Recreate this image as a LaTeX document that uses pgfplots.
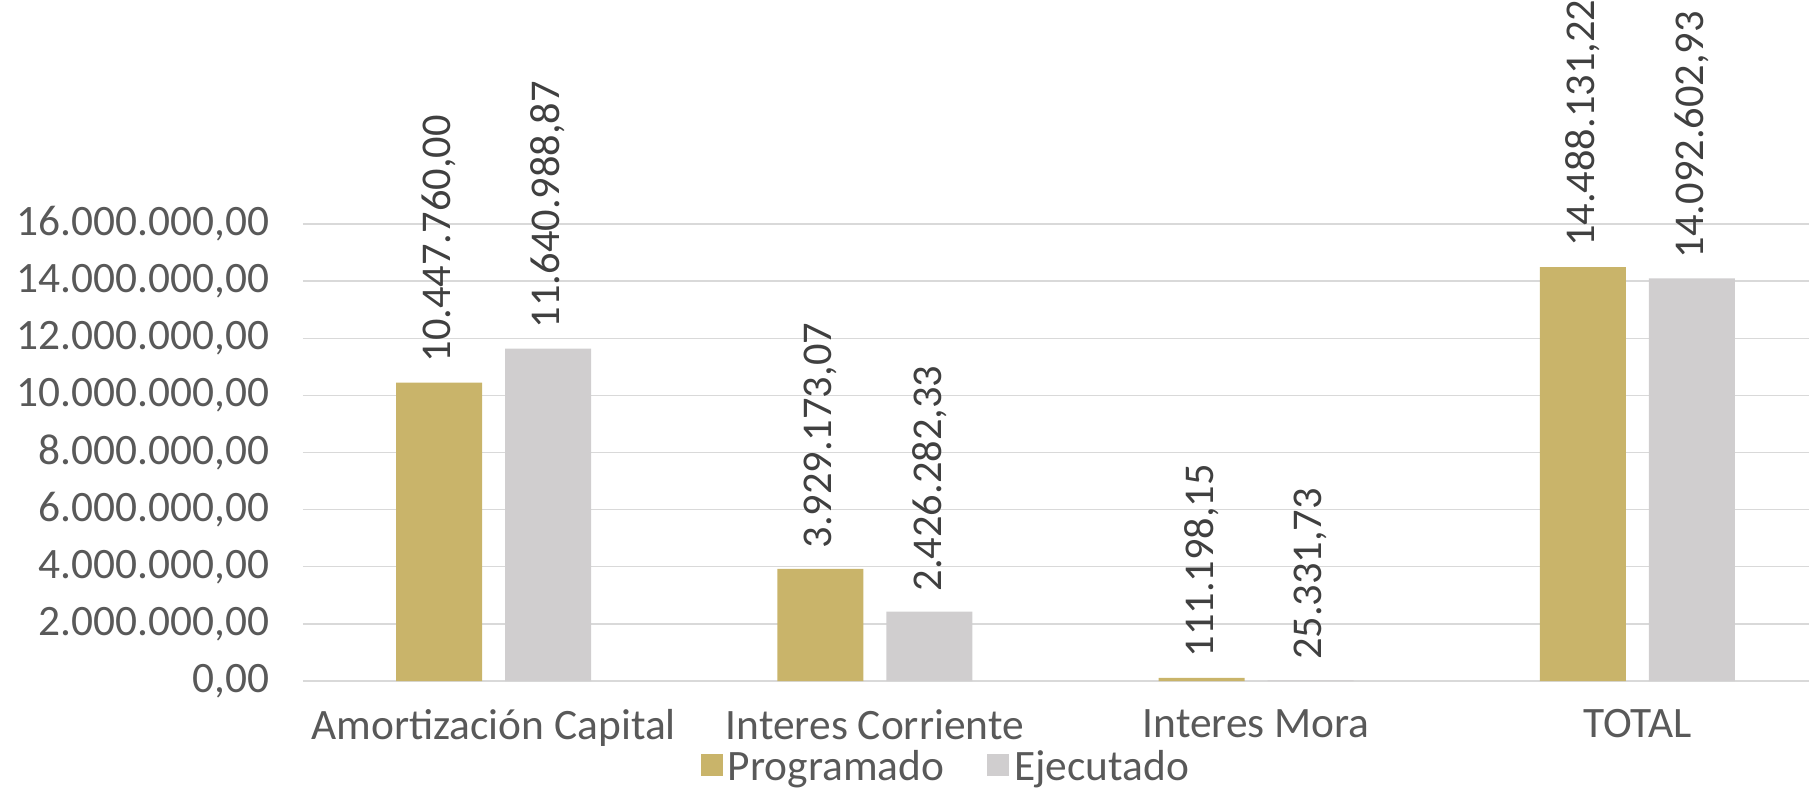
\documentclass[border=0pt]{standalone}
\usepackage{pgfplots}
\pgfplotsset{compat=1.18}
\usepackage{pgfplotstable}
\usepackage{fontspec}
\setmainfont{Carlito}
\definecolor{gold}{HTML}{C9B46A}
\definecolor{lgray}{HTML}{D0CECF}
\definecolor{gridc}{HTML}{D9D9D9}
\definecolor{tickc}{HTML}{595959}
\definecolor{labc}{HTML}{404040}
\pgfplotstableread{
x p pl e el
0 10447760.00 10.447.760,00 11640988.87 11.640.988,87
1 3929173.07 3.929.173,07 2426282.33 2.426.282,33
2 111198.15 111.198,15 25331.73 25.331,73
3 14488131.22 14.488.131,22 14092602.93 14.092.602,93
}\data
\begin{document}
\begin{tikzpicture}
\path[use as bounding box] (-151.5pt,-53.5pt) rectangle (753pt,340.5pt);
\begin{axis}[
  scale only axis,
  width=753pt, height=228.5pt,
  xmin=-0.5, xmax=3.45,
  ymin=0, ymax=16000000,
  ytick={0,2000000,4000000,6000000,8000000,10000000,12000000,14000000,16000000},
  scaled y ticks=false,
  xtick={0,1,2,3},
  xticklabels={Amortización Capital, Interes Corriente, Interes Mora, TOTAL},
  ybar=11.5pt, bar width=43pt,
  axis line style={draw=none},
  major tick length=0pt,
  ymajorgrids, grid style={color=gridc, line width=0.7pt},
  font=\fontsize{21.7}{26}\selectfont,
  tick label style={color=tickc, font=\fontsize{21.7}{26}\selectfont},
  yticklabel style={xshift=-13.4pt, /pgf/number format/.cd, fixed, fixed zerofill, precision=2, use comma, 1000 sep={.}, assume math mode=true},
  xticklabel style={yshift=-13pt, inner ysep=1pt},
  nodes near coords={\pgfplotspointmeta},
  point meta=explicit symbolic,
  every node near coord/.append style={rotate=90, anchor=west, inner xsep=10pt, color=labc, font=\fontsize{21.2}{26}\selectfont},
  legend style={draw=none, fill=none, at={(0.428,-0.188)}, anchor=center, legend columns=2, font=\fontsize{21.7}{24}\selectfont, text=tickc, inner sep=0pt, nodes={inner xsep=2.5pt, inner ysep=0pt}},
  legend image code/.code={\fill[#1] (0pt,-4.5pt) rectangle (11pt,6.5pt);},
  /tikz/every even column/.append style={column sep=19pt},
]
\addplot[draw=none, fill=gold] table[x=x, y=p, meta=pl] {\data};
\addplot[draw=none, fill=lgray] table[x=x, y=e, meta=el] {\data};
\legend{Programado, Ejecutado}
\end{axis}
\end{tikzpicture}
\end{document}
